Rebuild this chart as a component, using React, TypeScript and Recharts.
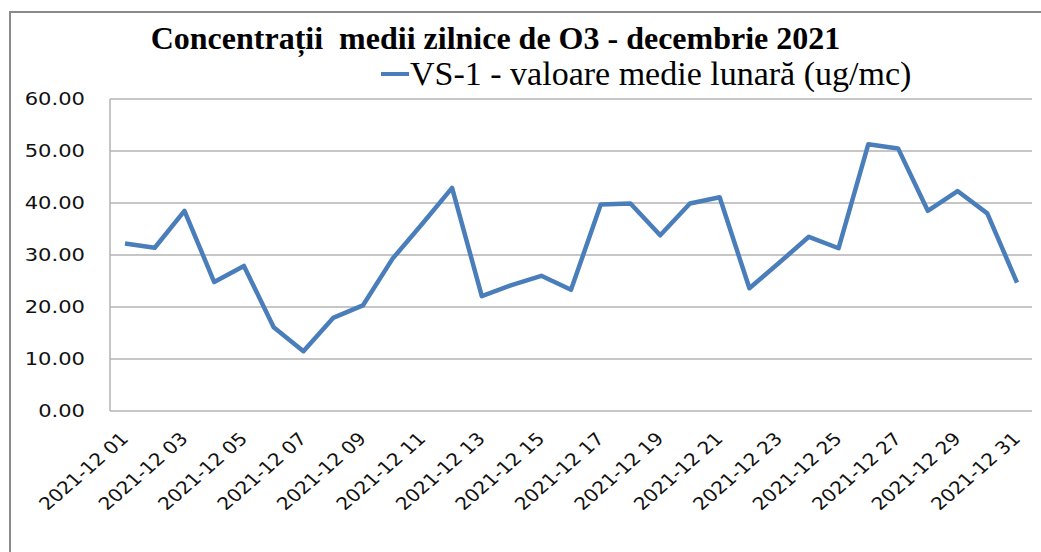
import React from 'react';
import { LineChart, Line, XAxis, YAxis, CartesianGrid, Legend } from 'recharts';

const days = [
  '2021-12 01', '2021-12 02', '2021-12 03', '2021-12 04', '2021-12 05', '2021-12 06',
  '2021-12 07', '2021-12 08', '2021-12 09', '2021-12 10', '2021-12 11', '2021-12 12',
  '2021-12 13', '2021-12 14', '2021-12 15', '2021-12 16', '2021-12 17', '2021-12 18',
  '2021-12 19', '2021-12 20', '2021-12 21', '2021-12 22', '2021-12 23', '2021-12 24',
  '2021-12 25', '2021-12 26', '2021-12 27', '2021-12 28', '2021-12 29', '2021-12 30',
  '2021-12 31',
];

const vs1 = [
  32.2, 31.4, 38.5, 24.8, 27.9, 16.1, 11.5, 17.9, 20.3, 29.3, 36.0, 42.9, 22.1, 24.2, 26.0, 23.3,
  39.7, 39.9, 33.8, 39.9, 41.1, 23.6, 28.5, 33.5, 31.3, 51.3, 50.5, 38.5, 42.3, 38.0, 24.7,
];

const yTicks = [0, 10, 20, 30, 40, 50, 60];

const seriesName = 'VS-1 - valoare medie lunară (ug/mc)';
const title = 'Concentrații  medii zilnice de O3 - decembrie 2021';

const data = days.map((d, i) => ({ date: d, vs1: vs1[i] }));

const LINE_COLOR = '#4a7ebb';

const YTick = (props: any) => {
  const { x, y, payload } = props;
  return (
    <text
      transform={`translate(${x},${y}) scale(1.17,1)`}
      textAnchor="end"
      dy="0.36em"
      fontFamily="DejaVu Sans"
      fontSize={18}
      fill="#111"
    >
      {Number(payload.value).toFixed(2)}
    </text>
  );
};

const XTick = (props: any) => {
  const { x, y, payload } = props;
  return (
    <text
      transform={`translate(${x + 4.5},${y + 29}) scale(1.15,1) rotate(-45)`}
      textAnchor="end"
      fontFamily="DejaVu Sans"
      fontSize={17.5}
      fill="#111"
    >
      {payload.value}
    </text>
  );
};

const LegendContent = () => (
  <div style={{ display: 'flex', alignItems: 'center' }}>
    <svg width={30} height={10}>
      <line x1={1} y1={5} x2={29} y2={5} stroke={LINE_COLOR} strokeWidth={4} />
    </svg>
    <span
      style={{
        fontFamily: '"Liberation Serif", serif',
        fontSize: 34,
        color: '#000',
        lineHeight: 1,
        whiteSpace: 'nowrap',
      }}
    >
      {seriesName}
    </span>
  </div>
);

export default function App() {
  return (
    <div
      style={{
        position: 'relative',
        width: 1041,
        height: 552,
        overflow: 'hidden',
        background: '#fff',
      }}
    >
      <style>{'body{margin:0}'}</style>
      <div
        style={{
          position: 'absolute',
          left: 9,
          top: 11,
          width: 1100,
          height: 600,
          border: '2px solid #8a8a8a',
        }}
      />
      <div
        style={{
          position: 'absolute',
          top: 22,
          left: 0,
          width: 991,
          textAlign: 'center',
          fontFamily: '"Liberation Serif", serif',
          fontWeight: 'bold',
          fontSize: 32,
          lineHeight: 1,
          whiteSpace: 'pre',
          color: '#000',
        }}
      >
        {title}
      </div>
      <LineChart
        width={1041}
        height={552}
        data={data}
        margin={{ top: 99, right: 9, bottom: 21, left: 0 }}
      >
        <CartesianGrid vertical={false} stroke="#b3b3b3" strokeWidth={1.5} />
        <XAxis
          dataKey="date"
          interval={1}
          height={120}
          padding={{ left: 15, right: 15 }}
          axisLine={false}
          tickLine={false}
          tickSize={0}
          tickMargin={0}
          tick={<XTick />}
        />
        <YAxis
          width={110}
          domain={[0, 60]}
          ticks={yTicks}
          axisLine={{ stroke: '#b3b3b3', strokeWidth: 1.5 }}
          tickLine={false}
          tickSize={0}
          tickMargin={25}
          tick={<YTick />}
        />
        <Legend
          layout="horizontal"
          verticalAlign="middle"
          align="center"
          wrapperStyle={{ top: 57, left: 380, width: 620 }}
          content={<LegendContent />}
        />
        <Line
          type="linear"
          dataKey="vs1"
          name={seriesName}
          stroke={LINE_COLOR}
          strokeWidth={4.5}
          dot={false}
          strokeLinejoin="round"
          isAnimationActive={false}
        />
      </LineChart>
    </div>
  );
}
